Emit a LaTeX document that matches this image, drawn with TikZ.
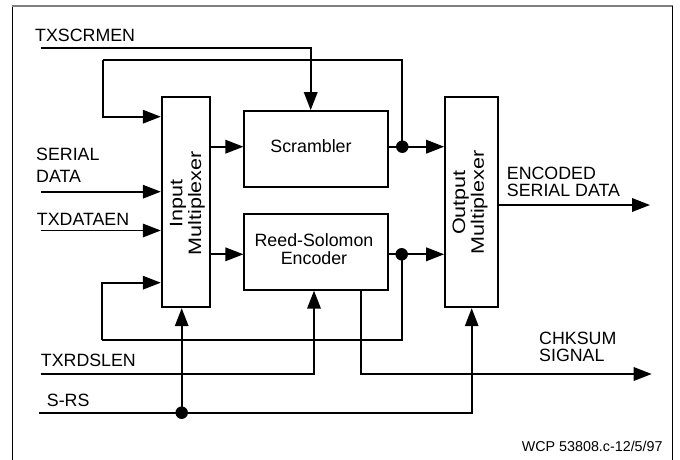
\documentclass[tikz,border=0pt]{standalone}
\usepackage{fontspec}
\setmainfont{Liberation Sans}
\usetikzlibrary{arrows.meta}
\begin{document}
\begin{tikzpicture}[x=1pt,y=-1pt,
  wire/.style={line width=1.8pt},
  arr/.style={wire,-{Triangle[length=18pt,width=13.5pt]}},
  blk/.style={draw,line width=1.8pt,inner sep=0pt},
  boxtext/.style={font=\fontsize{17.8}{17.5}\selectfont,inner sep=0pt,align=center},
  muxtext/.style={font=\fontsize{18}{18.8}\selectfont,inner sep=0pt,align=center,rotate=90},
  lbl/.style={font=\fontsize{17.8}{21.8}\selectfont,inner sep=0pt,anchor=base west,align=left},
  dotn/.style={circle,fill,inner sep=0pt,minimum size=12.5pt}]
\useasboundingbox (0,0) rectangle (680,460);
% frame
\draw[line width=1pt] (12.3,460) -- (12.3,5.7);
\draw[line width=2pt,gray] (12.3,5.7) -- (672.7,5.7);
\draw[line width=1.2pt] (672.7,5.7) -- (672.7,460);
% blocks
\node[blk,minimum width=48.3pt,minimum height=210.6pt] (imux) at (185.85,202) {};
\node[blk,minimum width=53.3pt,minimum height=210.6pt] (omux) at (471.7,202) {};
\node[blk,minimum width=143.4pt,minimum height=75.7pt,
  label={[boxtext,xshift=-5pt,yshift=3pt]center:Scrambler}] (scr) at (316,148.85) {};
\node[blk,minimum width=143.4pt,minimum height=75.5pt,
  label={[boxtext,xshift=-2pt,yshift=3pt]center:Reed-Solomon\\Encoder}] (rs) at (316,252) {};
\node[muxtext] (imuxt) at (187.5,203.3) {\scalebox{1.2}[1]{Input}\\\scalebox{1.2}[1]{Multiplexer}};
\node[muxtext] (omuxt) at (470,202.5) {\scalebox{1.2}[1]{Output}\\\scalebox{1.2}[1]{Multiplexer}};
% junctions
\node[dotn] (j1) at (402.3,146.7) {};
\node[dotn] (j2) at (401.7,254.3) {};
\node[dotn] (j3) at (181.7,412.7) {};
% coordinates
\coordinate (txsL) at (40.7,48.3);
\coordinate (txsC) at (310.7,48.3);
\coordinate (tl) at (102.7,60);
\coordinate (bl) at (101.7,340);
\coordinate (sdL) at (40.7,191.7);
\coordinate (teL) at (40.7,230.5);
\coordinate (trL) at (40.7,374);
\coordinate (trC) at (314,374);
\coordinate (ckC) at (360.7,374);
\coordinate (ckE) at (651.7,374);
\coordinate (srL) at (39.3,412.7);
\coordinate (enE) at (650,205);
% connectors
\draw[arr] (txsL) -- (txsC) -- (txsC |- scr.north);
\draw[wire] (j1.center) |- (tl);
\draw[arr] (tl) |- (imux.west |- 0,116.7);
\draw[arr] (imux.east |- j1) -- (scr.west |- j1);
\draw[arr] (scr.east |- j1) -- (omux.west |- j1);
\draw[arr] (imux.east |- j2) -- (rs.west |- j2);
\draw[arr] (rs.east |- j2) -- (omux.west |- j2);
\draw[wire] (j2.center) |- (bl);
\draw[arr] (bl) |- (imux.west |- 0,282.7);
\draw[arr] (sdL) -- (imux.west |- sdL);
\draw[arr] (teL) -- (imux.west |- teL);
\draw[arr] (trL) -- (trC) -- (trC |- rs.south);
\draw[arr] (ckC |- rs.south) -- (ckC) -- (ckE);
\draw[arr] (srL) -| (omux.south);
\draw[arr] (j3.center) -- (j3 |- imux.south);
\draw[arr] (omux.east |- enE) -- (enE);
% labels (multi-line labels are anchored at the baseline of their last line)
\node[lbl] (ltxs) at (35,41.7) {TXSCRMEN};
\node[lbl] (lsd) at (36,182.5) {SERIAL\\DATA};
\node[lbl] (lte) at (36.7,225) {TXDATAEN};
\node[lbl] (ltr) at (40.7,366) {TXRDSLEN};
\node[lbl] (lsr) at (46.7,406.7) {S-RS};
\node[lbl,font=\fontsize{17.8}{16.5}\selectfont] (len) at (506.7,196) {ENCODED\\SERIAL DATA};
\node[lbl,font=\fontsize{17.8}{17.7}\selectfont] (lck) at (539,361.7) {CHKSUM\\SIGNAL};
\node[lbl,font=\fontsize{14.3}{16}\selectfont] (lwcp) at (521.7,451.7) {WCP 53808.c-12/5/97};
\end{tikzpicture}
\end{document}
